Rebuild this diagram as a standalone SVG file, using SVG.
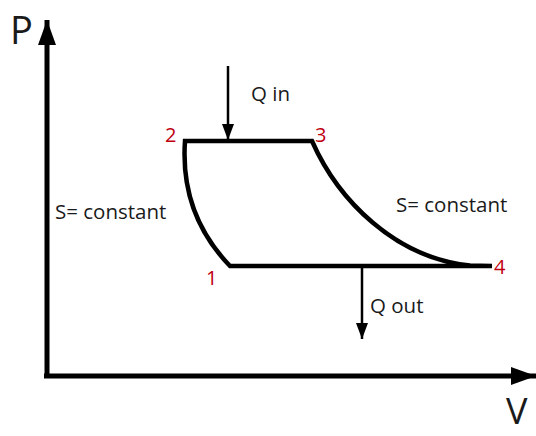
<svg xmlns="http://www.w3.org/2000/svg" width="536" height="436" viewBox="0 0 536 436">
<style>
text{font-family:"Open Sans","Liberation Sans",sans-serif;fill:#1a1a1a}
.lbl{font-size:20.5px}
.num{font-size:20px;fill:#c0000f}
.ax{stroke:#000;stroke-width:5;fill:none}
.cyc{stroke:#000;stroke-width:4.5;fill:none;stroke-linecap:round;stroke-linejoin:miter}
.q{stroke:#000;stroke-width:2.5;fill:none}
</style>
<defs>
<marker id="axhead" markerUnits="userSpaceOnUse" markerWidth="26" markerHeight="20" refX="25" refY="10" orient="auto"><path d="M0,1 L25,10 L0,19 Z" fill="#000"/></marker>
<marker id="qhead" markerUnits="userSpaceOnUse" markerWidth="17" markerHeight="13" refX="16" refY="6.5" orient="auto"><path d="M0,0.5 L16,6.5 L0,12.5 Z" fill="#000"/></marker>
</defs>
<rect width="536" height="436" fill="#fff"/>
<g id="axes">
<line class="ax" x1="47" y1="378" x2="47" y2="20" marker-end="url(#axhead)"/>
<line class="ax" x1="44" y1="376" x2="536" y2="376" marker-end="url(#axhead)"/>
<text x="10" y="44" style="font-size:38px">P</text>
<text x="506" y="424" style="font-size:36px">V</text>
</g>
<g id="cycle">
<path class="cyc" d="M185,141 L312,141 C338,200 395,258 470,265.5 L492,266 L230,266 C203,238 181,198 185,141 Z"/>
</g>
<g id="connectors">
<line class="q" x1="228" y1="66" x2="228" y2="140" marker-end="url(#qhead)"/>
<line class="q" x1="362" y1="267" x2="362" y2="339" marker-end="url(#qhead)"/>
</g>
<g id="labels">
<text class="lbl" x="251" y="101">Q in</text>
<text class="lbl" x="370" y="313">Q out</text>
<text class="lbl" x="55" y="219">S= constant</text>
<text class="lbl" x="396" y="212">S= constant</text>
<text class="num" x="165" y="142">2</text>
<text class="num" x="315" y="142">3</text>
<text class="num" x="206" y="285">1</text>
<text class="num" x="494" y="274">4</text>
</g>
</svg>
